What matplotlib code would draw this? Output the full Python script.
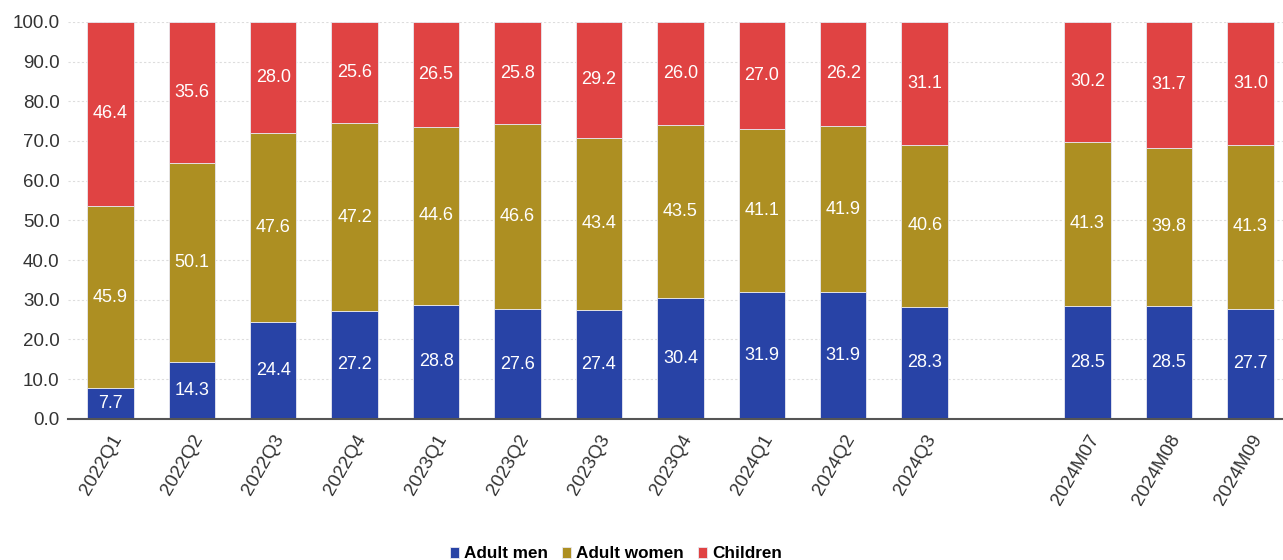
import numpy as np
import matplotlib.pyplot as plt

plt.rcParams['font.family'] = ['Liberation Sans', 'DejaVu Sans']

# Data
categories = ['2022Q1', '2022Q2', '2022Q3', '2022Q4', '2023Q1', '2023Q2', '2023Q3',
              '2023Q4', '2024Q1', '2024Q2', '2024Q3', '2024M07', '2024M08', '2024M09']
adult_men = [7.7, 14.3, 24.4, 27.2, 28.8, 27.6, 27.4, 30.4, 31.9, 31.9, 28.3, 28.5, 28.5, 27.7]
adult_women = [45.9, 50.1, 47.6, 47.2, 44.6, 46.6, 43.4, 43.5, 41.1, 41.9, 40.6, 41.3, 39.8, 41.3]
children = [46.4, 35.6, 28.0, 25.6, 26.5, 25.8, 29.2, 26.0, 27.0, 26.2, 31.1, 30.2, 31.7, 31.0]

series = [('Adult men', adult_men, '#2843a6'),
          ('Adult women', adult_women, '#ad8f22'),
          ('Children', children, '#e04343')]

# positions: one empty slot between quarters and months
x = np.array([i if i < 11 else i + 1 for i in range(len(categories))])

fig = plt.figure(figsize=(12.83, 5.6), dpi=100)
ax = fig.add_axes([0.053, 0.252, 0.947, 0.709])

bottom = np.zeros(len(categories))
for name, vals, col in series:
    vals = np.array(vals)
    ax.bar(x, vals, width=0.57, bottom=bottom, color=col, label=name,
           edgecolor='#e8e8f0', linewidth=0.6, zorder=2)
    for xi, b, v in zip(x, bottom, vals):
        ax.text(xi, b + v / 2, f'{v:.1f}', ha='center', va='center',
                color='white', fontsize=13, zorder=3)
    bottom += vals

ax.set_xlim(-0.52, 14.4)
ax.set_ylim(0, 100)
ax.set_yticks(np.arange(0, 101, 10))
ax.set_yticklabels([f'{v:.1f}' for v in np.arange(0, 101, 10)])
ax.set_xticks(x)
ax.set_xticklabels(categories, rotation=60, ha='right', rotation_mode='anchor')
ax.tick_params(axis='both', length=0, labelsize=13.5, colors='#333333')
ax.tick_params(axis='x', pad=9)
ax.tick_params(axis='y', pad=6)
ax.yaxis.grid(True, color='#dddddd', linestyle=(0, (2, 2)), linewidth=0.8, zorder=0)
for s in ['top', 'right', 'left']:
    ax.spines[s].set_visible(False)
ax.spines['bottom'].set_color('#555555')
ax.spines['bottom'].set_linewidth(1.5)
ax.spines['bottom'].set_zorder(4)

leg = fig.legend(loc='lower center', bbox_to_anchor=(0.48, -0.03), ncol=3, frameon=False,
                 handlelength=0.55, handleheight=0.55, handletextpad=0.3, columnspacing=0.8,
                 prop={'size': 12.3, 'weight': 'bold'})

fig.savefig('out.png', dpi=100)
